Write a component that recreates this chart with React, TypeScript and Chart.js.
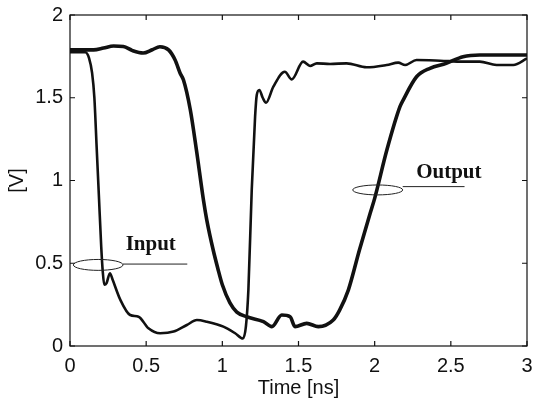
import React, { useEffect, useRef } from "react";
import { Chart, registerables } from "chart.js";

Chart.register(...registerables);

// Input waveform (time in ns, voltage in V)
const inputT = [0, 0.1, 0.125, 0.145, 0.16, 0.175, 0.19, 0.205, 0.215, 0.225, 0.24, 0.262, 0.28, 0.33, 0.395, 0.45, 0.515, 0.592, 0.68, 0.767, 0.833, 0.898, 1.007, 1.084, 1.135, 1.155, 1.171, 1.193, 1.215, 1.226, 1.243, 1.265, 1.287, 1.335, 1.41, 1.456, 1.53, 1.576, 1.62, 1.707, 1.816, 1.947, 2.079, 2.155, 2.2, 2.275, 2.43, 2.58, 2.69, 2.8, 2.91, 3.0];
const inputV = [1.775, 1.775, 1.74, 1.65, 1.5, 1.2, 0.9, 0.6, 0.45, 0.37, 0.38, 0.44, 0.4, 0.28, 0.187, 0.177, 0.107, 0.077, 0.087, 0.127, 0.157, 0.147, 0.117, 0.077, 0.045, 0.12, 0.338, 0.943, 1.385, 1.517, 1.547, 1.5, 1.47, 1.567, 1.657, 1.611, 1.718, 1.692, 1.708, 1.704, 1.708, 1.684, 1.698, 1.712, 1.698, 1.728, 1.724, 1.718, 1.718, 1.698, 1.698, 1.738];

// Output waveform
const outputT = [0, 0.155, 0.22, 0.286, 0.35, 0.41, 0.48, 0.54, 0.59, 0.647, 0.69, 0.723, 0.745, 0.79, 0.83, 0.876, 0.898, 0.94, 0.97, 1.0, 1.05, 1.095, 1.16, 1.27, 1.325, 1.39, 1.445, 1.477, 1.554, 1.63, 1.728, 1.77, 1.827, 1.9, 1.97, 2.0, 2.08, 2.166, 2.187, 2.275, 2.363, 2.47, 2.58, 2.69, 2.84, 3.0];
const outputV = [1.789, 1.789, 1.8, 1.813, 1.81, 1.785, 1.77, 1.79, 1.808, 1.789, 1.728, 1.648, 1.607, 1.426, 1.184, 0.882, 0.761, 0.58, 0.47, 0.37, 0.26, 0.205, 0.177, 0.147, 0.117, 0.187, 0.177, 0.117, 0.137, 0.117, 0.157, 0.217, 0.338, 0.58, 0.8, 0.892, 1.184, 1.446, 1.486, 1.627, 1.678, 1.708, 1.748, 1.758, 1.758, 1.758];

const xTicks = [0, 0.5, 1, 1.5, 2, 2.5, 3];
const yTicks = [0, 0.5, 1, 1.5, 2];

const xLabel = "Time [ns]";
const yLabel = "[V]";
const inputLabel = "Input";
const outputLabel = "Output";

const annotationPlugin = {
  id: "annotations",
  afterDatasetsDraw(chart: any) {
    const { ctx, chartArea, scales } = chart;
    const xs = scales.x;
    const ys = scales.y;
    const X = (v: number) => xs.getPixelForValue(v);
    const Y = (v: number) => ys.getPixelForValue(v);
    ctx.save();
    ctx.strokeStyle = "#111";
    ctx.lineWidth = 1.2;
    ctx.strokeRect(chartArea.left, chartArea.top, chartArea.right - chartArea.left, chartArea.bottom - chartArea.top);
    const tl = 5;
    ctx.beginPath();
    xTicks.forEach((t) => {
      const px = X(t);
      ctx.moveTo(px, chartArea.bottom);
      ctx.lineTo(px, chartArea.bottom - tl);
      ctx.moveTo(px, chartArea.top);
      ctx.lineTo(px, chartArea.top + tl);
    });
    yTicks.forEach((v) => {
      const py = Y(v);
      ctx.moveTo(chartArea.left, py);
      ctx.lineTo(chartArea.left + tl, py);
      ctx.moveTo(chartArea.right, py);
      ctx.lineTo(chartArea.right - tl, py);
    });
    ctx.stroke();

    ctx.lineWidth = 1;
    ctx.strokeStyle = "#222";
    const ellipse = (cx: number, cy: number, rx: number, ry: number) => {
      ctx.beginPath();
      ctx.ellipse(X(cx), Y(cy), Math.abs(X(cx + rx) - X(cx)), Math.abs(Y(cy + ry) - Y(cy)), 0, 0, Math.PI * 2);
      ctx.stroke();
    };
    const line = (x1: number, y1: number, x2: number, y2: number) => {
      ctx.beginPath();
      ctx.moveTo(X(x1), Y(y1));
      ctx.lineTo(X(x2), Y(y2));
      ctx.stroke();
    };
    ellipse(0.185, 0.49, 0.163, 0.033);
    line(0.348, 0.495, 0.77, 0.495);
    ellipse(2.02, 0.943, 0.164, 0.03);
    line(2.184, 0.963, 2.59, 0.963);

    ctx.fillStyle = "#111";
    ctx.font = "bold 21px 'Liberation Serif', 'Times New Roman', serif";
    ctx.textAlign = "center";
    ctx.textBaseline = "middle";
    ctx.fillText(inputLabel, X(0.53), Y(0.61));
    ctx.fillText(outputLabel, X(2.487), Y(1.048));
    ctx.restore();
  },
};

export default function App() {
  const ref = useRef<HTMLCanvasElement>(null);
  useEffect(() => {
    if (!ref.current) return;
    const toPts = (ts: number[], vs: number[]) => ts.map((t, i) => ({ x: t, y: vs[i] }));
    const font = { family: "'Liberation Sans', Arial, sans-serif", size: 20 };
    const fmt = (v: any) => String(Number(v));
    const chart = new Chart(ref.current, {
      type: "line",
      data: {
        datasets: [
          {
            label: inputLabel,
            data: toPts(inputT, inputV),
            borderColor: "#111",
            borderWidth: 2.6,
            pointRadius: 0,
            cubicInterpolationMode: "monotone",
            fill: false,
          },
          {
            label: outputLabel,
            data: toPts(outputT, outputV),
            borderColor: "#111",
            borderWidth: 3.6,
            pointRadius: 0,
            cubicInterpolationMode: "monotone",
            fill: false,
          },
        ],
      },
      options: {
        responsive: false,
        animation: false,
        layout: { padding: { top: 15, right: 7, left: 0, bottom: 0 } },
        plugins: { legend: { display: false }, tooltip: { enabled: false } },
        scales: {
          x: {
            type: "linear",
            min: 0,
            max: 3,
            grid: { display: false, drawTicks: false },
            border: { display: false },
            ticks: { stepSize: 0.5, color: "#111", font, padding: 8, maxRotation: 0, autoSkip: false, callback: fmt },
            title: { display: true, text: xLabel, color: "#111", font, padding: { top: 0, bottom: 3 } },
            afterFit: (s: any) => {
              s.height = 57;
              s.paddingLeft = 0;
              s.paddingRight = 0;
            },
          },
          y: {
            type: "linear",
            min: 0,
            max: 2,
            grid: { display: false, drawTicks: false },
            border: { display: false },
            ticks: { stepSize: 0.5, color: "#111", font, padding: 7, callback: fmt },
            title: { display: true, text: yLabel, color: "#111", font, padding: { top: 5, bottom: 0 } },
            afterFit: (s: any) => {
              s.width = 70;
              s.paddingTop = 0;
              s.paddingBottom = 0;
            },
          },
        },
      },
      plugins: [annotationPlugin],
    } as any);
    return () => chart.destroy();
  }, []);
  return (
    <div style={{ position: "absolute", left: 0, top: 0, width: 534, height: 403, background: "#fff" }}>
      <canvas ref={ref} width={534} height={403} />
    </div>
  );
}
